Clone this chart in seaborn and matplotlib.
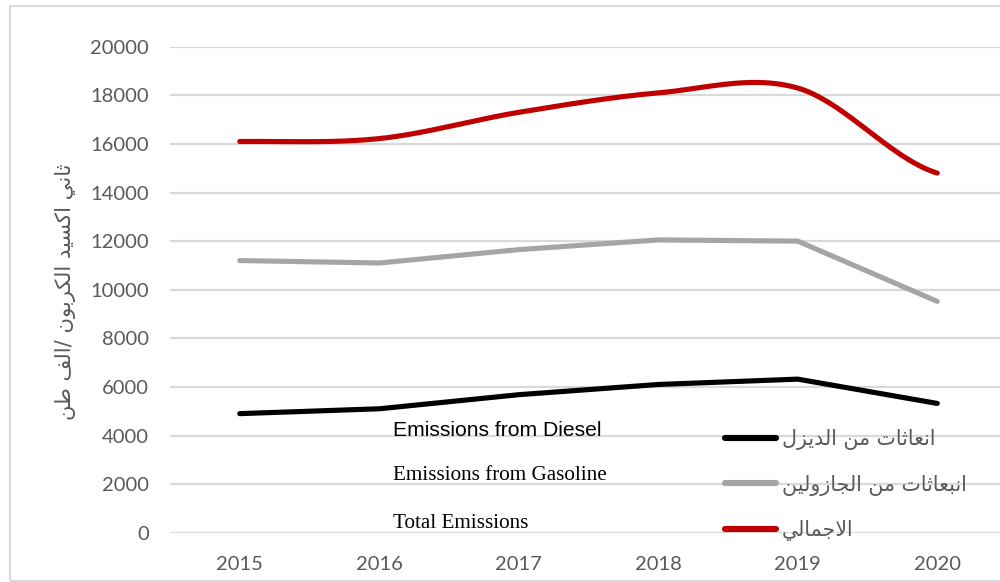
import numpy as np
import pandas as pd
import matplotlib
matplotlib.use("Agg")
import matplotlib.pyplot as plt
from matplotlib.patches import Rectangle
import seaborn as sns

# ---------------- data ----------------
years = ["2015", "2016", "2017", "2018", "2019", "2020"]
diesel = [4900, 5100, 5680, 6100, 6320, 5320]
gasoline = [11200, 11100, 11650, 12050, 12000, 9520]
total = [16100, 16220, 17300, 18100, 18300, 14800]

label_diesel = "انعاثات من الديزل"
label_gasoline = "انبعاثات من الجازولين"
label_total = "الاجمالي"
ylabel_text = "ثاني اكسيد الكربون /الف طن"
en_labels = ["Emissions from Diesel", "Emissions from Gasoline", "Total Emissions"]

# ------------- minimal Arabic shaping (presentation forms + visual order) -------------
FORMS = {
    "ا": ("\uFE8D", "\uFE8E"), "د": ("\uFEA9", "\uFEAA"), "ذ": ("\uFEAB", "\uFEAC"),
    "ر": ("\uFEAD", "\uFEAE"), "ز": ("\uFEAF", "\uFEB0"), "و": ("\uFEED", "\uFEEE"),
    "ب": ("\uFE8F", "\uFE90", "\uFE91", "\uFE92"), "ت": ("\uFE95", "\uFE96", "\uFE97", "\uFE98"),
    "ث": ("\uFE99", "\uFE9A", "\uFE9B", "\uFE9C"), "ج": ("\uFE9D", "\uFE9E", "\uFE9F", "\uFEA0"),
    "س": ("\uFEB1", "\uFEB2", "\uFEB3", "\uFEB4"), "ط": ("\uFEC1", "\uFEC2", "\uFEC3", "\uFEC4"),
    "ع": ("\uFEC9", "\uFECA", "\uFECB", "\uFECC"), "ف": ("\uFED1", "\uFED2", "\uFED3", "\uFED4"),
    "ك": ("\uFED9", "\uFEDA", "\uFEDB", "\uFEDC"), "ل": ("\uFEDD", "\uFEDE", "\uFEDF", "\uFEE0"),
    "م": ("\uFEE1", "\uFEE2", "\uFEE3", "\uFEE4"), "ن": ("\uFEE5", "\uFEE6", "\uFEE7", "\uFEE8"),
    "ي": ("\uFEF1", "\uFEF2", "\uFEF3", "\uFEF4"),
}


def shape(s):
    res = []
    i, n = 0, len(s)
    while i < n:
        c = s[i]
        if c not in FORMS:
            res.append(c)
            i += 1
            continue
        prev = s[i - 1] if i > 0 else None
        join_prev = prev in FORMS and len(FORMS[prev]) == 4
        if c == "ل" and i + 1 < n and s[i + 1] == "ا":
            res.append("\uFEFC" if join_prev else "\uFEFB")
            i += 2
            continue
        nxt = s[i + 1] if i + 1 < n else None
        f = FORMS[c]
        join_next = len(f) == 4 and nxt in FORMS
        if join_prev and join_next:
            res.append(f[3])
        elif join_prev:
            res.append(f[1])
        elif join_next:
            res.append(f[2])
        else:
            res.append(f[0])
        i += 1
    return "".join(reversed(res))


def smooth(vals, per=40):
    """Catmull-Rom rendering of a series (Excel 'smoothed line' look)."""
    p = np.asarray(vals, dtype=float)
    n = len(p)
    m = np.empty(n)
    m[1:-1] = (p[2:] - p[:-2]) / 2
    m[0] = (p[1] - p[0]) / 2
    m[-1] = (p[-1] - p[-2]) / 2
    xs, ys = [], []
    for k in range(n - 1):
        t = np.linspace(0, 1, per, endpoint=(k == n - 2))
        h00 = 2 * t**3 - 3 * t**2 + 1
        h10 = t**3 - 2 * t**2 + t
        h01 = -2 * t**3 + 3 * t**2
        h11 = t**3 - t**2
        xs.append(k + t)
        ys.append(h00 * p[k] + h10 * m[k] + h01 * p[k + 1] + h11 * m[k + 1])
    return np.concatenate(xs), np.concatenate(ys)


# ---------------- style ----------------
sns.set_theme(style="white")
plt.rcParams["font.family"] = ["Lato", "DejaVu Sans"]

GRID = "#d9d9d9"
TXT = "#595959"
C_DIESEL = "#000000"
C_GAS = "#a5a5a5"
C_TOTAL = "#c00000"
LW = 3.7

fig = plt.figure(figsize=(10, 5.82), dpi=100)
ax = fig.add_axes([0.170, 0.0847, 0.837, 0.835])

idx = np.arange(len(years))
df_d = pd.DataFrame({"x": idx, "y": diesel})
df_g = pd.DataFrame({"x": idx, "y": gasoline})
tx, ty = smooth(total)
df_t = pd.DataFrame({"x": tx, "y": ty})

kw = dict(ax=ax, sort=False, estimator=None, solid_capstyle="round")
sns.lineplot(data=df_d, x="x", y="y", color=C_DIESEL, lw=LW, label=shape(label_diesel), **kw)
sns.lineplot(data=df_g, x="x", y="y", color=C_GAS, lw=LW, label=shape(label_gasoline), **kw)
sns.lineplot(data=df_t, x="x", y="y", color=C_TOTAL, lw=LW, label=shape(label_total), **kw)

ax.set_xlim(-0.5, len(years) - 0.5)
ax.set_ylim(0, 20000)
ax.set_xticks(idx)
ax.set_xticklabels(years)
ax.set_yticks(np.arange(0, 20001, 2000))
ax.set_yticklabels([str(v) for v in range(0, 20001, 2000)])
ax.yaxis.grid(True, color=GRID, lw=1.6)
ax.xaxis.grid(False)
ax.set_axisbelow(True)
for s in ax.spines.values():
    s.set_visible(False)
ax.tick_params(axis="both", length=0, labelsize=14.5, labelcolor=TXT)
ax.tick_params(axis="y", pad=15)
ax.tick_params(axis="x", pad=17)
ax.set_xlabel("")
ax.set_ylabel("")

# y-axis title (Arabic)
fig.text(0.065, 1 - 292 / 582, shape(ylabel_text), rotation=90, ha="center", va="center",
         fontsize=15.2, color=TXT, family=["DejaVu Sans"])

# legend with Arabic labels
h, l = ax.get_legend_handles_labels()
leg = ax.legend(h, l, loc="upper left", bbox_to_anchor=(0.715, 1 - 419 / 582),
                bbox_transform=fig.transFigure, frameon=False, borderpad=0,
                handlelength=2.45, handletextpad=0.32, labelspacing=1.18,
                prop={"family": "DejaVu Sans", "size": 14.8})
for t in leg.get_texts():
    t.set_color(TXT)
for ln in leg.get_lines():
    ln.set_linewidth(4.4)
    ln.set_solid_capstyle("round")

# English overlay labels
fig.text(0.393, 1 - 430 / 582, en_labels[0], ha="left", va="center", fontsize=15.2,
         color="black", family=["Liberation Sans"])
fig.text(0.393, 1 - 476 / 582, en_labels[1], ha="left", va="center", fontsize=15.2,
         color="black", family=["Liberation Serif"])
fig.text(0.393, 1 - 523 / 582, en_labels[2], ha="left", va="center", fontsize=15.2,
         color="black", family=["Liberation Serif"])

# chart-area border (cropped on the right)
fig.patches.append(Rectangle((9.5 / 1000, 1 - 581 / 582), 1.2, (581 - 6) / 582,
                             transform=fig.transFigure, fill=False, ec=GRID, lw=1.5,
                             clip_on=False))

fig.savefig("out.png", dpi=100, facecolor="white")
